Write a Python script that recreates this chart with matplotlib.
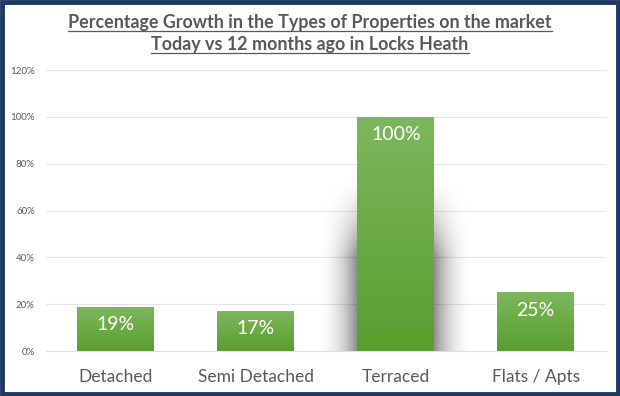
import numpy as np
import matplotlib
matplotlib.use("Agg")
import matplotlib.pyplot as plt
from matplotlib.patches import Rectangle
from matplotlib.colors import LinearSegmentedColormap

# dane z wykresu
typy = ["Detached", "Semi Detached", "Terraced", "Flats / Apts"]
wzrost = [19, 17, 100, 25]
etykiety = ["19%", "17%", "100%", "25%"]
yticks = [0, 20, 40, 60, 80, 100, 120]
ytick_labels = ["0%", "20%", "40%", "60%", "80%", "100%", "120%"]

plt.rcParams['font.family'] = ['Lato', 'DejaVu Sans']

fig = plt.figure(figsize=(6.2, 3.96), dpi=100)
ax = fig.add_axes([0.074, 0.1136, 0.903, 0.7096])

x = np.arange(len(typy))
szer = 0.55
ax.set_xlim(-0.5, len(typy) - 0.5)
ax.set_ylim(0, 120)

# cien pod Terraced (rozmyty)
gradient = LinearSegmentedColormap.from_list("g", ["#5a9e2e", "#7db75e"])
i_max = int(np.argmax(wzrost))
sx = np.linspace(-1, 1, 200)
sy = np.linspace(0, 1, 200)
XX, YY = np.meshgrid(sx, sy)
w_in = szer / 2
half = w_in + 0.3
dist = np.clip((np.abs(XX) * half - w_in) / (half - w_in), 0, 1)
pion = np.clip((0.75 - YY) / 0.35, 0, 1) ** 1.5
alpha = (1 - dist) ** 2.2 * pion * 0.45
rgba = np.zeros((200, 200, 4))
rgba[..., 3] = alpha
ax.imshow(rgba, extent=[x[i_max] - half, x[i_max] + half, 0, wzrost[i_max]],
          origin="lower", aspect="auto", zorder=1, interpolation="bilinear")

for i, v in enumerate(wzrost):
    bars = ax.bar(x[i], v, width=szer, color="none", zorder=2)
    r = bars[0]
    grad = np.linspace(0, 1, 100).reshape(-1, 1)
    im = ax.imshow(grad, extent=[x[i] - szer / 2, x[i] + szer / 2, 0, v],
                   origin="lower", aspect="auto", cmap=gradient, zorder=2)
    im.set_clip_path(r)
    ax.text(x[i], v - 7.5, etykiety[i], ha="center", va="center",
            color="white", fontsize=14, zorder=3)

ax.set_xticks(x)
ax.set_xticklabels(typy, fontsize=12.5, color="#595959")
ax.set_yticks(yticks)
ax.set_yticklabels(ytick_labels, fontsize=7, color="#595959")
ax.tick_params(axis="both", length=0)
ax.tick_params(axis="x", pad=13)
ax.tick_params(axis="y", pad=8)
ax.grid(axis="y", color="#e6e6e6", linewidth=0.8, zorder=0)
ax.set_axisbelow(True)
for s in ax.spines.values():
    s.set_visible(False)
ax.spines["bottom"].set_visible(True)
ax.spines["bottom"].set_color("#e0e0e0")

t1 = fig.text(0.5, 1 - 28 / 396, "Percentage Growth in the Types of Properties on the market",
              ha="center", va="baseline", fontsize=12.9, fontweight="bold", color="#595959")
t2 = fig.text(0.5, 1 - 50 / 396, "Today vs 12 months ago in Locks Heath",
              ha="center", va="baseline", fontsize=12.9, fontweight="bold", color="#595959")
# podkreslenia pod tytulem
fig.canvas.draw()
rend = fig.canvas.get_renderer()
for t, yy in [(t1, 31), (t2, 53)]:
    bb = t.get_window_extent(rend).transformed(fig.transFigure.inverted())
    fig.add_artist(plt.Line2D([bb.x0, bb.x1], [1 - yy / 396, 1 - yy / 396],
                              color="#595959", lw=0.9))

# ramka
fig.add_artist(Rectangle((0.003, 0.004), 0.994, 0.992, transform=fig.transFigure,
                         fill=False, edgecolor="#1f3864", linewidth=3.5))

fig.savefig("out.png", dpi=100)
